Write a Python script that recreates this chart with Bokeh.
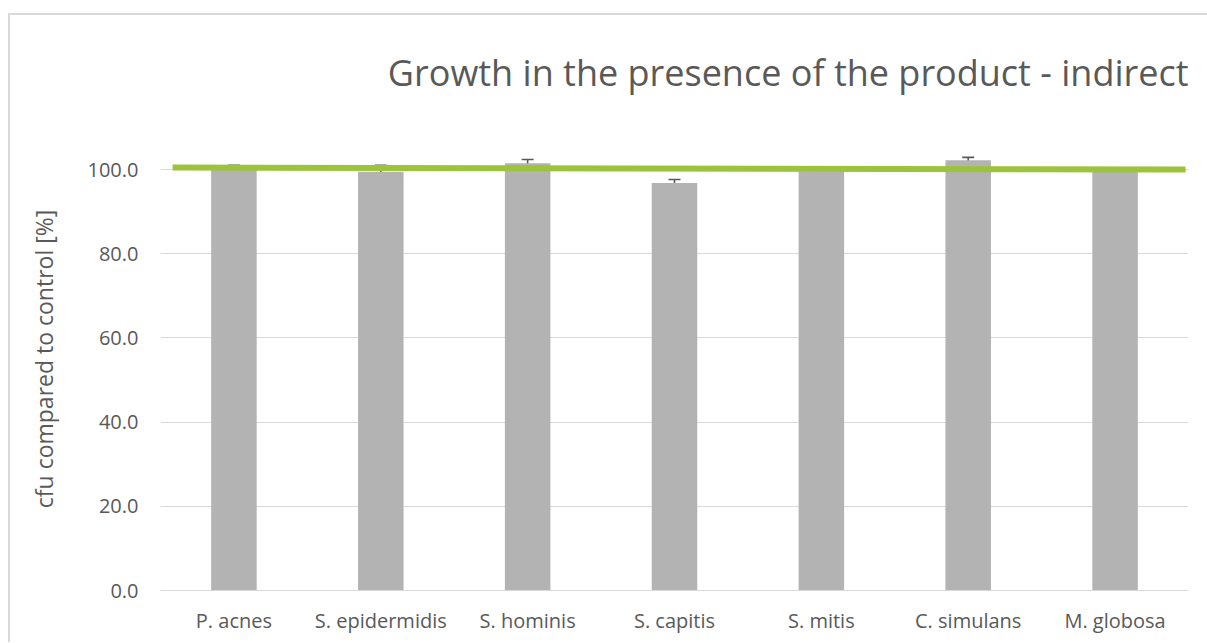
from bokeh.plotting import figure
from bokeh.models import (ColumnDataSource, FactorRange, FixedTicker, NumeralTickFormatter,
                          Whisker, TeeHead, Range1d, Spacer)
from bokeh.layouts import column, row
from bokeh.embed import file_html
from bokeh.resources import INLINE

categories = ["P. acnes", "S. epidermidis", "S. hominis", "S. capitis",
              "S. mitis", "C. simulans", "M. globosa"]
values = [100.0, 99.5, 101.5, 96.8, 99.6, 102.2, 99.4]
errors = [1.0, 1.5, 0.9, 0.85, 0.8, 0.7, 0.3]
# hand-drawn reference line: [x_start, x_end] in category units, [y_start, y_end]
ref_x = [0.082, 6.98]
ref_y = [100.5, 100.0]
y_ticks = [0, 20, 40, 60, 80, 100]

title_text = "Growth in the presence of the product - indirect"
ylabel = "cfu compared to control [%]"

TXT = "#595959"
FONT = "Open Sans"
BORDER = "#D9D9D9"

src = ColumnDataSource(dict(
    cat=categories, val=values,
    lower=[v - e for v, e in zip(values, errors)],
    upper=[v + e for v, e in zip(values, errors)],
))

FW, FH = 1197, 627
p = figure(width=FW, height=FH, x_range=FactorRange(*categories),
           y_range=Range1d(0, 110), output_backend="svg", toolbar_location=None,
           min_border_left=150, min_border_right=19, min_border_top=112, min_border_bottom=52)
p.outline_line_color = None
p.background_fill_color = "white"
p.border_fill_color = "white"

p.title.text = title_text
p.title.align = "right"
p.title.text_font = FONT
p.title.text_font_size = "36px"
p.title.text_font_style = "normal"
p.title.text_color = TXT
p.title.standoff = 61

p.vbar(x="cat", top="val", width=0.31, source=src, fill_color="#B3B3B3", line_color=None)

w = Whisker(base="cat", upper="upper", lower="lower", source=src,
            line_color="#595959", line_width=1.6,
            upper_head=TeeHead(size=12, line_color="#595959", line_width=1.6),
            lower_head=TeeHead(size=12, line_color="#595959", line_width=1.6))
p.add_layout(w)

p.line(x=ref_x, y=ref_y, line_color="#9DC33C", line_width=6)

# axes
p.yaxis.ticker = FixedTicker(ticks=y_ticks)
p.yaxis.formatter = NumeralTickFormatter(format="0.0")
p.yaxis.axis_line_color = None
p.yaxis.major_tick_line_color = None
p.yaxis.minor_tick_line_color = None
p.yaxis.major_label_standoff = 16
p.yaxis.major_label_text_font = FONT
p.yaxis.major_label_text_font_size = "20px"
p.yaxis.major_label_text_color = TXT
p.yaxis.axis_label = ylabel
p.yaxis.axis_label_text_font = FONT
p.yaxis.axis_label_text_font_size = "23px"
p.yaxis.axis_label_text_font_style = "normal"
p.yaxis.axis_label_text_color = TXT
p.yaxis.axis_label_standoff = 25

p.xaxis.axis_line_color = BORDER
p.xaxis.axis_line_width = 1
p.xaxis.major_tick_line_color = None
p.xaxis.minor_tick_line_color = None
p.xaxis.major_label_standoff = 10
p.xaxis.major_label_text_font = FONT
p.xaxis.major_label_text_font_size = "20px"
p.xaxis.major_label_text_color = TXT

p.xgrid.grid_line_color = None
p.ygrid.grid_line_color = BORDER
p.ygrid.grid_line_width = 1

layout = column(
    Spacer(width=1207, height=13),
    row(Spacer(width=8, height=2), Spacer(width=1199, height=2, background=BORDER)),
    row(Spacer(width=8, height=FH), Spacer(width=2, height=FH, background=BORDER), p),
)

open("out.html", "w").write(file_html(layout, INLINE))
